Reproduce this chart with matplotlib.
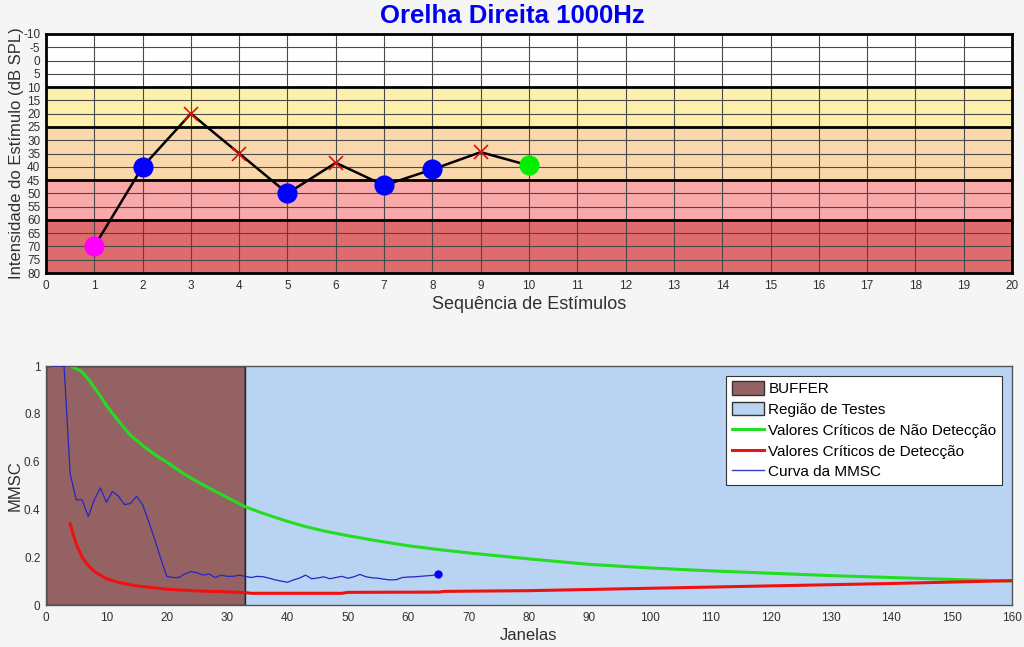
import matplotlib.pyplot as plt
import numpy as np
from matplotlib.patches import Patch
from matplotlib.lines import Line2D

plt.rcParams['font.family'] = ['Liberation Sans', 'DejaVu Sans']
plt.rcParams['axes.unicode_minus'] = False

# ---- upper chart: stimulus sequence ----
seq_x = [1, 2, 3, 4, 5, 6, 7, 8, 9, 10]
seq_y = [70, 40, 20, 35, 50, 38.5, 47, 41, 34.5, 39.5]
seq_kind = ['start', 'resp', 'miss', 'miss', 'resp', 'miss', 'resp', 'resp', 'miss', 'final']

band_edges = [-10, 10, 25, 45, 60, 80]
band_colors = ['#ffffff', '#fcf0aa', '#fad8ac', '#f9a9a9', '#de6c6c']

# ---- lower chart: MMSC ----
buffer_end = 33
mmsc_x = list(range(1, 66))
mmsc_y = [1.0, 1.0, 1.0, 0.55, 0.44, 0.44, 0.37, 0.44, 0.49, 0.43,
          0.475, 0.455, 0.42, 0.425, 0.455, 0.42, 0.35, 0.275, 0.195, 0.12,
          0.115, 0.115, 0.13, 0.14, 0.135, 0.125, 0.13, 0.115, 0.125, 0.12,
          0.12, 0.125, 0.12, 0.115, 0.12, 0.118, 0.112, 0.105, 0.1, 0.095,
          0.105, 0.113, 0.125, 0.11, 0.113, 0.118, 0.11, 0.115, 0.12, 0.112,
          0.118, 0.128, 0.118, 0.114, 0.112, 0.108, 0.105, 0.106, 0.115, 0.117,
          0.118, 0.12, 0.122, 0.124, 0.128]

green_x = [1, 4, 5, 6, 7, 8, 9, 10, 12, 14, 16, 18, 20, 23, 26, 30, 33, 36,
           40, 43, 46, 50, 55, 60, 65, 70, 80, 90, 100, 110, 120, 130, 140,
           150, 160]
green_y = [1.0, 1.0, 0.99, 0.975, 0.945, 0.91, 0.875, 0.835, 0.77, 0.71,
           0.668, 0.63, 0.598, 0.546, 0.503, 0.45, 0.411, 0.383, 0.35, 0.328,
           0.31, 0.29, 0.268, 0.248, 0.232, 0.218, 0.193, 0.17, 0.155, 0.143,
           0.133, 0.123, 0.115, 0.107, 0.1]

red_x = [4, 5, 6, 7, 8, 10, 12, 15, 20, 25, 30, 33, 34, 49, 50, 65, 66, 80,
         100, 120, 140, 160]
red_y = [0.34, 0.255, 0.2, 0.165, 0.14, 0.11, 0.095, 0.08, 0.066, 0.059, 0.055,
         0.052, 0.049, 0.049, 0.053, 0.054, 0.057, 0.06, 0.07, 0.08, 0.09, 0.102]

fig = plt.figure(figsize=(10.24, 6.47), dpi=100)
fig.patch.set_facecolor('#f5f5f5')

tick_col = '#303030'

# upper axes
ax1 = fig.add_axes([0.0449, 0.578, 0.9434, 0.3695])
for i in range(len(band_colors)):
    ax1.axhspan(band_edges[i], band_edges[i + 1], color=band_colors[i], zorder=0)
for x in range(1, 20):
    ax1.axvline(x, color='#4a4a4a', lw=0.8, zorder=1)
for y in range(-5, 80, 5):
    ax1.axhline(y, color='#4a4a4a', lw=0.8, zorder=1)
for y in band_edges[1:-1]:
    ax1.axhline(y, color='black', lw=2.0, zorder=2)

ax1.plot(seq_x, seq_y, color='black', lw=1.8, zorder=3)
for x, y, k in zip(seq_x, seq_y, seq_kind):
    if k == 'miss':
        ax1.plot(x, y, marker='x', color='#e01010', ms=10, mew=1.2, zorder=4)
    else:
        c = {'start': '#ff00ff', 'resp': '#0000ff', 'final': '#00ee00'}[k]
        ax1.plot(x, y, marker='o', color=c, ms=13.5, zorder=4)

ax1.set_xlim(0, 20)
ax1.set_ylim(80, -10)
ax1.set_xticks(range(0, 21))
ax1.set_yticks(range(-10, 81, 5))
ax1.tick_params(length=0, labelsize=8.5, colors=tick_col)
ax1.tick_params(axis='x', pad=5)
ax1.tick_params(axis='y', pad=4)
for s in ax1.spines.values():
    s.set_linewidth(2)
ax1.set_xlabel('Sequência de Estímulos', fontsize=13, color=tick_col, labelpad=3)
ax1.set_ylabel('Intensidade do Estímulo (dB SPL)', fontsize=12, color=tick_col)
ax1.yaxis.set_label_coords(-0.023, 0.5)
fig.text(0.5, 0.975, 'Orelha Direita 1000Hz', ha='center', va='center',
         fontsize=18.5, fontweight='bold', color='#0000ee')

# lower axes
ax2 = fig.add_axes([0.0449, 0.0649, 0.9434, 0.3694])
ax2.axvspan(0, buffer_end, facecolor='#946262', edgecolor='black', lw=1, zorder=0)
ax2.axvspan(buffer_end, 160, facecolor='#b9d4f2', edgecolor='none', zorder=0)
ax2.axvline(buffer_end, color='#222222', lw=1, zorder=1)
ax2.plot(green_x, green_y, color='#22dd22', lw=2.2, zorder=2)
ax2.plot(red_x, red_y, color='#ee1111', lw=2.2, zorder=2)
ax2.plot(mmsc_x, mmsc_y, color='#2525c8', lw=0.9, zorder=3)
ax2.plot(mmsc_x[-1], mmsc_y[-1], 'o', color='#0000ff', ms=5, zorder=4)

ax2.set_xlim(0, 160)
ax2.set_ylim(0, 1)
ax2.set_xticks(range(0, 161, 10))
ax2.set_yticks([0, 0.2, 0.4, 0.6, 0.8, 1])
ax2.set_yticklabels(['0', '0.2', '0.4', '0.6', '0.8', '1'])
ax2.tick_params(length=0, labelsize=8.5, colors=tick_col)
ax2.tick_params(axis='x', pad=5)
ax2.tick_params(axis='y', pad=4)
for s in ax2.spines.values():
    s.set_color('#555555')
    s.set_linewidth(1)
ax2.set_xlabel('Janelas', fontsize=12, color=tick_col, labelpad=3)
ax2.set_ylabel('MMSC', fontsize=12, color=tick_col)
ax2.yaxis.set_label_coords(-0.024, 0.5)

handles = [Patch(facecolor='#946262', edgecolor='#333333', label='BUFFER'),
           Patch(facecolor='#b9d4f2', edgecolor='#333333', label='Região de Testes'),
           Line2D([], [], color='#22dd22', lw=2.2, label='Valores Críticos de Não Detecção'),
           Line2D([], [], color='#ee1111', lw=2.2, label='Valores Críticos de Detecção'),
           Line2D([], [], color='#3a3ad0', lw=1, label='Curva da MMSC')]
leg = ax2.legend(handles=handles, loc='upper right', bbox_to_anchor=(0.9895, 0.96),
                 fontsize=11, fancybox=False, framealpha=1, edgecolor='#333333',
                 handlelength=2.1, handleheight=1.0, handletextpad=0.3,
                 borderpad=0.35, labelspacing=0.38, borderaxespad=0)
leg.get_frame().set_linewidth(0.8)

fig.savefig('out.png', dpi=100, facecolor=fig.get_facecolor())
